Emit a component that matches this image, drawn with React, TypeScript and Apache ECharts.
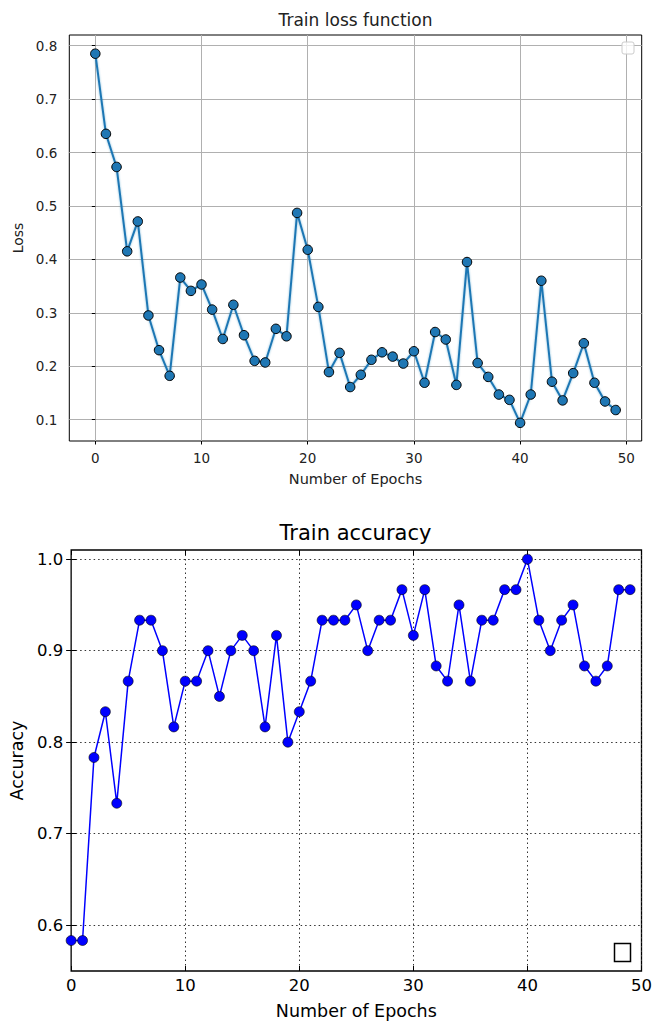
import React, { useEffect, useRef } from "react";
import * as echarts from "echarts";

const epochs = [
  0, 1, 2, 3, 4, 5, 6, 7, 8, 9, 10, 11, 12, 13, 14, 15, 16, 17, 18, 19, 20, 21, 22, 23, 24,
  25, 26, 27, 28, 29, 30, 31, 32, 33, 34, 35, 36, 37, 38, 39, 40, 41, 42, 43, 44, 45, 46, 47, 48, 49,
];

const lossValues = [
  0.785, 0.635, 0.573, 0.415, 0.471, 0.295, 0.23, 0.182, 0.366, 0.341, 0.353, 0.306, 0.251, 0.315,
  0.258, 0.21, 0.207, 0.27, 0.256, 0.487, 0.418, 0.311, 0.189, 0.225, 0.161, 0.184, 0.212, 0.226,
  0.218, 0.205, 0.228, 0.169, 0.264, 0.25, 0.165, 0.395, 0.206, 0.18, 0.147, 0.137, 0.094, 0.147,
  0.36, 0.171, 0.136, 0.187, 0.243, 0.169, 0.134, 0.118,
];

const accuracyValues = [
  0.5833, 0.5833, 0.7833, 0.8333, 0.7333, 0.8667, 0.9333, 0.9333, 0.9, 0.8167, 0.8667, 0.8667, 0.9,
  0.85, 0.9, 0.9167, 0.9, 0.8167, 0.9167, 0.8, 0.8333, 0.8667, 0.9333, 0.9333, 0.9333, 0.95, 0.9,
  0.9333, 0.9333, 0.9667, 0.9167, 0.9667, 0.8833, 0.8667, 0.95, 0.8667, 0.9333, 0.9333, 0.9667,
  0.9667, 1.0, 0.9333, 0.9, 0.9333, 0.95, 0.8833, 0.8667, 0.8833, 0.9667, 0.9667,
];

const epochTicks = [0, 10, 20, 30, 40, 50];
const lossTicks = [0.1, 0.2, 0.3, 0.4, 0.5, 0.6, 0.7, 0.8];
const accuracyTicks = [0.6, 0.7, 0.8, 0.9, 1.0];

const titles = ["Train loss function", "Train accuracy"];
const xName = "Number of Epochs";
const yNames = ["Loss", "Accuracy"];

const FONT = "DejaVu Sans";

export default function App() {
  const ref = useRef<HTMLDivElement>(null);

  useEffect(() => {
    document.body.style.margin = "0";
    const chart = echarts.init(ref.current!, null, { renderer: "svg" });

    const lossData = epochs.map((e, i) => [e, lossValues[i]]);
    const accData = epochs.map((e, i) => [e, accuracyValues[i]]);

    const fmt1 = (v: number) => v.toFixed(1);

    chart.setOption({
      animation: false,
      backgroundColor: "#fff",
      grid: [
        {
          left: 69.3,
          top: 35,
          width: 572.4,
          height: 406,
          show: true,
          borderColor: "#000",
          borderWidth: 1,
          backgroundColor: "transparent",
        },
        {
          left: 69.5,
          top: 550,
          width: 572,
          height: 421,
          show: true,
          borderColor: "#000",
          borderWidth: 1.3,
          backgroundColor: "transparent",
        },
      ],
      xAxis: [
        {
          type: "value",
          gridIndex: 0,
          min: -2.45,
          max: 51.45,
          name: xName,
          nameLocation: "middle",
          nameGap: 30,
          nameTextStyle: { fontFamily: FONT, fontSize: 14.5, color: "#222" },
          axisLine: { show: false },
          axisTick: {
            show: true,
            inside: false,
            length: 3.5,
            customValues: epochTicks,
            lineStyle: { color: "#000" },
          },
          axisLabel: {
            customValues: epochTicks,
            margin: 10,
            fontFamily: FONT,
            fontSize: 13.5,
            color: "#222",
            formatter: (v: number) => String(v),
          },
          splitLine: { show: true, lineStyle: { color: "#b0b0b0", width: 1 } },
        },
        {
          type: "value",
          gridIndex: 1,
          min: 0,
          max: 50,
          interval: 10,
          name: xName,
          nameLocation: "middle",
          nameGap: 31,
          nameTextStyle: { fontFamily: FONT, fontSize: 17.5, color: "#000" },
          axisLine: { show: false },
          axisTick: { show: true, inside: true, length: 5, lineStyle: { color: "#000" } },
          axisLabel: {
            margin: 6,
            fontFamily: FONT,
            fontSize: 16.5,
            color: "#000",
            showMinLabel: true,
            showMaxLabel: true,
          },
          splitLine: {
            show: true,
            lineStyle: { color: "#333", width: 1, type: [1.5, 3] },
          },
        },
        {
          type: "value",
          gridIndex: 1,
          position: "top",
          min: 0,
          max: 50,
          interval: 10,
          axisLine: { show: false },
          axisTick: { show: true, inside: true, length: 5, lineStyle: { color: "#000" } },
          axisLabel: { show: false },
          splitLine: { show: false },
        },
      ],
      yAxis: [
        {
          type: "value",
          gridIndex: 0,
          min: 0.06,
          max: 0.82,
          name: yNames[0],
          nameLocation: "middle",
          nameGap: 40,
          nameTextStyle: { fontFamily: FONT, fontSize: 14, color: "#222" },
          axisLine: { show: false },
          axisTick: {
            show: true,
            inside: false,
            length: 3.5,
            customValues: lossTicks,
            lineStyle: { color: "#000" },
          },
          axisLabel: {
            customValues: lossTicks,
            margin: 12,
            fontFamily: FONT,
            fontSize: 13.5,
            color: "#222",
            formatter: fmt1,
          },
          splitLine: { show: true, lineStyle: { color: "#b0b0b0", width: 1 } },
        },
        {
          type: "value",
          gridIndex: 1,
          min: 0.55,
          max: 1.01,
          name: yNames[1],
          nameLocation: "middle",
          nameGap: 44,
          nameTextStyle: { fontFamily: FONT, fontSize: 17.5, color: "#000" },
          axisLine: { show: false },
          axisTick: {
            show: true,
            inside: true,
            length: 5,
            customValues: accuracyTicks,
            lineStyle: { color: "#000" },
          },
          axisLabel: {
            customValues: accuracyTicks,
            margin: 8,
            fontFamily: FONT,
            fontSize: 16.5,
            color: "#000",
            formatter: fmt1,
          },
          splitLine: {
            show: true,
            lineStyle: { color: "#333", width: 1, type: [1.5, 3] },
          },
        },
        {
          type: "value",
          gridIndex: 1,
          position: "right",
          min: 0.55,
          max: 1.01,
          axisLine: { show: false },
          axisTick: {
            show: true,
            inside: true,
            length: 5,
            customValues: accuracyTicks,
            lineStyle: { color: "#000" },
          },
          axisLabel: { show: false, customValues: accuracyTicks },
          splitLine: { show: false },
        },
      ],
      series: [
        {
          type: "line",
          xAxisIndex: 0,
          yAxisIndex: 0,
          data: lossData,
          symbol: "circle",
          symbolSize: 9.5,
          lineStyle: {
            color: "#1f77b4",
            width: 2,
            shadowColor: "rgba(31,119,180,0.45)",
            shadowBlur: 2,
          },
          itemStyle: { color: "#1f77b4", borderColor: "#000", borderWidth: 1 },
          emphasis: { disabled: true },
          z: 3,
        },
        {
          type: "line",
          xAxisIndex: 1,
          yAxisIndex: 1,
          data: accData,
          symbol: "circle",
          symbolSize: 10,
          clip: true,
          lineStyle: { color: "#0000ff", width: 1.5 },
          itemStyle: { color: "#0000ff", borderColor: "#000", borderWidth: 0.6 },
          emphasis: { disabled: true },
          z: 3,
        },
      ],
      graphic: [
        {
          type: "text",
          x: 355.5,
          y: 20,
          style: {
            text: titles[0],
            fontFamily: FONT,
            fontSize: 17,
            fill: "#222",
            align: "center",
            verticalAlign: "middle",
          },
        },
        {
          type: "text",
          x: 355.5,
          y: 533,
          style: {
            text: titles[1],
            fontFamily: FONT,
            fontSize: 21,
            fill: "#000",
            align: "center",
            verticalAlign: "middle",
          },
        },
        {
          type: "rect",
          shape: { x: 622, y: 42, width: 12, height: 12, r: 2 },
          style: { fill: "rgba(255,255,255,0.8)", stroke: "#cccccc", lineWidth: 1 },
          z: 10,
        },
        {
          type: "rect",
          shape: { x: 614.5, y: 943.5, width: 16, height: 18 },
          style: { fill: "#fff", stroke: "#000", lineWidth: 1.5 },
          z: 10,
        },
      ],
    });

    return () => chart.dispose();
  }, []);

  return <div ref={ref} style={{ width: 656, height: 1021 }} />;
}
